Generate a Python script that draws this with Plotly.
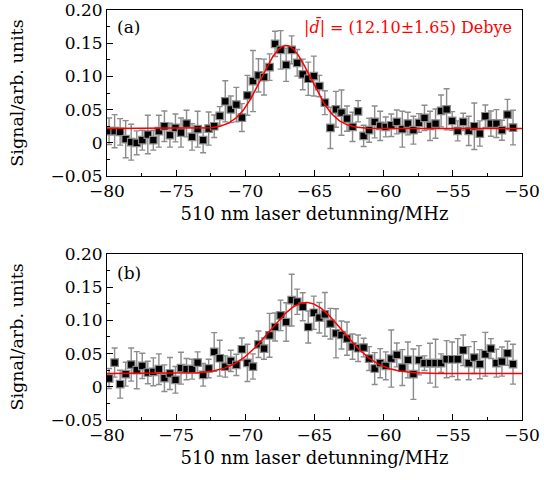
import numpy as np
import plotly.graph_objects as go

detuning = [-79.85, -79.45, -79.05, -78.65, -78.25, -77.85, -77.45, -77.05, -76.65, -76.25,
            -75.85, -75.45, -75.05, -74.65, -74.25, -73.85, -73.45, -73.05, -72.65, -72.25,
            -71.85, -71.45, -71.05, -70.65, -70.25, -69.85, -69.45, -69.05, -68.65, -68.25,
            -67.85, -67.45, -67.05, -66.65, -66.25, -65.85, -65.45, -65.05, -64.65, -64.25,
            -63.85, -63.45, -63.05, -62.65, -62.25, -61.85, -61.45, -61.05, -60.65, -60.25,
            -59.85, -59.45, -59.05, -58.65, -58.25, -57.85, -57.45, -57.05, -56.65, -56.25,
            -55.85, -55.45, -55.05, -54.65, -54.25, -53.85, -53.45, -53.05, -52.65, -52.25,
            -51.85, -51.45, -51.05, -50.65]

signal_a = [0.0175, 0.0175, 0.0165, 0.0055, 0.001, 0.0, 0.004, 0.0125, 0.004, 0.0175,
            0.025, 0.0115, 0.0225, 0.0155, 0.029, 0.009, 0.0205, 0.004, 0.0215, 0.025,
            0.0405, 0.0625, 0.0505, 0.0575, 0.038, 0.0715,
            0.093, 0.1015, 0.099, 0.114, 0.149, 0.14, 0.1175, 0.14, 0.1205, 0.103,
            0.0965, 0.1005, 0.0855, 0.0605, 0.0225, 0.0505, 0.0455, 0.0365, 0.024, 0.0475,
            0.0105, 0.019, 0.0315, 0.0255,
            0.024, 0.0265, 0.0315, 0.0205, 0.029, 0.019, 0.03, 0.0375, 0.0255, 0.029,
            0.048, 0.0505, 0.033, 0.018, 0.0315, 0.018, 0.025, 0.014, 0.04, 0.029,
            0.029, 0.019, 0.0425, 0.023]
error_a = [0.02, 0.025, 0.02, 0.028, 0.027, 0.018, 0.015, 0.029, 0.015, 0.024,
           0.023, 0.018, 0.021, 0.022, 0.02, 0.02, 0.027, 0.019, 0.025, 0.017,
           0.014, 0.031, 0.02, 0.026, 0.021, 0.03,
           0.046, 0.025, 0.027, 0.02, 0.019, 0.029, 0.025, 0.021, 0.02, 0.023,
           0.025, 0.03, 0.016, 0.018, 0.031, 0.027, 0.034, 0.019, 0.022, 0.016,
           0.016, 0.018, 0.024, 0.022,
           0.015, 0.017, 0.018, 0.027, 0.017, 0.021, 0.014, 0.019, 0.022, 0.022,
           0.024, 0.031, 0.014, 0.015, 0.013, 0.022, 0.035, 0.019, 0.017, 0.019,
           0.021, 0.015, 0.023, 0.026]

signal_b = [0.0125, 0.0365, 0.004, 0.019, 0.0335, 0.025, 0.0315, 0.0215, 0.0225, 0.0265,
            0.013, 0.02, 0.0105, 0.028, 0.0265, 0.0265, 0.0365, 0.018, 0.0275, 0.0525,
            0.043, 0.0305, 0.039, 0.033, 0.0565, 0.036,
            0.0305, 0.064, 0.0575, 0.0775, 0.09, 0.1075, 0.0975, 0.1305, 0.128, 0.1205,
            0.09, 0.1115, 0.104, 0.109, 0.095, 0.0805, 0.078, 0.0725, 0.0605, 0.058,
            0.059, 0.0425, 0.0275, 0.0355,
            0.0315, 0.0425, 0.048, 0.029, 0.0405, 0.019, 0.04, 0.0355, 0.0355, 0.0355,
            0.0355, 0.0415, 0.0415, 0.0415, 0.055, 0.0355, 0.044, 0.034, 0.049, 0.0575,
            0.0355, 0.038, 0.0505, 0.034]
error_b = [0.015, 0.022, 0.021, 0.018, 0.025, 0.028, 0.019, 0.017, 0.021, 0.023,
           0.02, 0.024, 0.02, 0.024, 0.016, 0.015, 0.016, 0.017, 0.014, 0.029,
           0.027, 0.016, 0.016, 0.016, 0.017, 0.028,
           0.019, 0.02, 0.016, 0.033, 0.021, 0.023, 0.029, 0.039, 0.019, 0.021,
           0.024, 0.025, 0.023, 0.033, 0.023, 0.037, 0.021, 0.025, 0.019, 0.02,
           0.014, 0.018, 0.024, 0.022,
           0.021, 0.043, 0.018, 0.027, 0.027, 0.038, 0.022, 0.011, 0.03, 0.036,
           0.014, 0.028, 0.026, 0.031, 0.023, 0.025, 0.024, 0.022, 0.033, 0.015,
           0.021, 0.022, 0.018, 0.03]

# Gaussian fit parameters: centre, sigma, amplitude, baseline
fit_a = dict(x0=-67.06, sigma=1.78, amp=0.125, base=0.0215)
fit_b = dict(x0=-65.6, sigma=2.6, amp=0.107, base=0.02)

x_ticks = [-80, -75, -70, -65, -60, -55, -50]
x_ticktext = ["\u221280", "\u221275", "\u221270", "\u221265", "\u221260", "\u221255", "\u221250"]
y_ticks = [-0.05, 0, 0.05, 0.10, 0.15, 0.20]
y_ticktext = ["\u22120.05", "0", "0.05", "0.10", "0.15", "0.20"]

FONT = "DejaVu Serif"
xfit = np.linspace(-80, -50, 400)


def gauss(p):
    return p["base"] + p["amp"] * np.exp(-(xfit - p["x0"]) ** 2 / (2 * p["sigma"] ** 2))


fig = go.Figure()
for sig, err, fit, xa, ya in [(signal_a, error_a, fit_a, "x", "y"),
                              (signal_b, error_b, fit_b, "x2", "y2")]:
    fig.add_trace(go.Scatter(
        x=detuning, y=sig, mode="markers", xaxis=xa, yaxis=ya,
        marker=dict(symbol="square", size=7.5, color="black",
                    line=dict(color="#8a8a8a", width=1.2)),
        error_y=dict(type="data", array=err, visible=True, color="#8c8c8c",
                     thickness=1.4, width=3),
        showlegend=False, hoverinfo="skip"))
    fig.add_trace(go.Scatter(
        x=xfit, y=gauss(fit), mode="lines", xaxis=xa, yaxis=ya,
        line=dict(color="#ff0000", width=1.5), showlegend=False, hoverinfo="skip"))

xax = dict(range=[-80, -50], tickvals=x_ticks, ticktext=x_ticktext, ticks="inside",
           ticklen=6, tickcolor="black", showline=True, linecolor="black", linewidth=1,
           mirror=True, showgrid=False, zeroline=False, automargin=False,
           ticklabeloverflow="allow",
           minor=dict(dtick=2.5, ticks="inside", ticklen=3, tickcolor="black"),
           tickfont=dict(family=FONT, size=17, color="black"),
           title=dict(text="510 nm laser detunning/MHz",
                      font=dict(family=FONT, size=18, color="black"), standoff=6))
yax = dict(range=[-0.05, 0.20], tickvals=y_ticks, ticktext=y_ticktext, ticks="inside",
           ticklen=6, tickcolor="black", showline=True, linecolor="black", linewidth=1,
           mirror=True, showgrid=False, zeroline=False, automargin=False,
           ticklabeloverflow="allow",
           minor=dict(dtick=0.025, ticks="inside", ticklen=3, tickcolor="black"),
           tickfont=dict(family=FONT, size=17, color="black"),
           title=dict(text="Signal/arb. units",
                      font=dict(family=FONT, size=17.5, color="black"), standoff=22))

fig.update_layout(
    width=544, height=480,
    margin=dict(l=107, r=22, t=10, b=60),
    paper_bgcolor="white", plot_bgcolor="white",
    xaxis=dict(xax, domain=[0, 1], anchor="y"),
    yaxis=dict(yax, domain=[0.595, 1.0], anchor="x"),
    xaxis2=dict(xax, domain=[0, 1], anchor="y2"),
    yaxis2=dict(yax, domain=[0.0, 0.405], anchor="x2"),
    annotations=[
        dict(text="(a)", x=0.019, y=0.898, xref="x domain", yref="y domain",
             xanchor="left", yanchor="middle", showarrow=False,
             font=dict(family=FONT, size=17, color="black")),
        dict(text="(b)", x=0.019, y=0.886, xref="x2 domain", yref="y2 domain",
             xanchor="left", yanchor="middle", showarrow=False,
             font=dict(family=FONT, size=17, color="black")),
        dict(text="|<i>d\u0304</i>| = (12.10\u00b11.65) Debye", x=0.98, y=0.898,
             xref="x domain", yref="y domain", xanchor="right", yanchor="middle",
             showarrow=False, font=dict(family=FONT, size=16, color="#ff0000")),
    ],
)

fig.write_html("out.html", config={"displayModeBar": False},
               post_script="document.body.style.margin='0';")
